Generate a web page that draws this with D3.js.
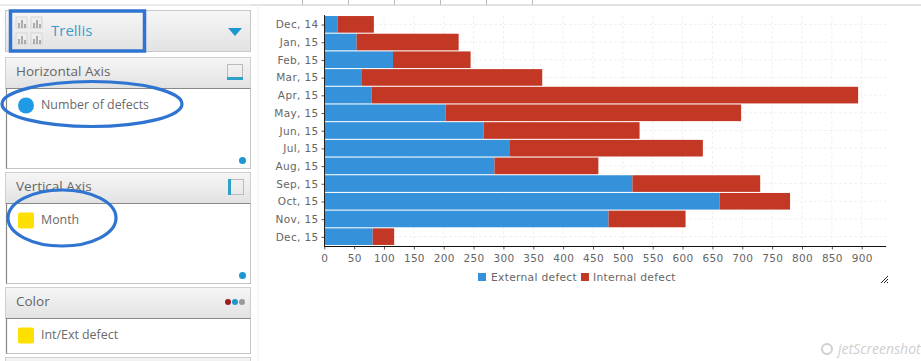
<!DOCTYPE html>
<html><head><meta charset="utf-8">
<script src="https://cdn.jsdelivr.net/npm/d3@7"></script>
<style>html,body{margin:0;padding:0;background:#fff;overflow:hidden}svg{display:block}</style>
</head><body><svg id="c" width="921" height="361"></svg>
<script>
const months = ["Dec, 14","Jan, 15","Feb, 15","Mar, 15","Apr, 15","May, 15","Jun, 15","Jul, 15","Aug, 15","Sep, 15","Oct, 15","Nov, 15","Dec, 15"];
const externalDefect = [22,54,115,63,79,203,267,311,285,516,662,476,81];
const internalDefect = [61,171,130,302,815,495,261,323,174,214,118,129,36];
const tickValues = d3.range(0,901,50);
const seriesNames = ["External defect","Internal defect"];
const seriesColors = ["#3591d9","#c23825"];
const panels = [
  {title:"Horizontal Axis",item:"Number of defects",top:57,head:31,body:80,mark:"circle",grip:true},
  {title:"Vertical Axis",item:"Month",top:172,head:31,body:80,mark:"square",grip:true},
  {title:"Color",item:"Int/Ext defect",top:287,head:31,body:35,mark:"square",grip:false}
];
const svg = d3.select("#c");
const defs = svg.append("defs");
const g = defs.append("linearGradient").attr("id","hd").attr("x1",0).attr("y1",0).attr("x2",0).attr("y2",1);
g.append("stop").attr("offset",0).attr("stop-color","#f6f6f6");
g.append("stop").attr("offset",1).attr("stop-color","#e2e2e2");
const uiFont = "'Open Sans','Noto Sans',sans-serif";

// top strip
svg.append("line").attr("x1",250).attr("x2",921).attr("y1",5).attr("y2",5).attr("stroke","#c8c8c8").attr("stroke-width",1.2);
svg.selectAll(".tp").data([302.5,348.5,394.5,440.5,486.5,532.5]).join("line").attr("x1",d=>d).attr("x2",d=>d).attr("y1",0).attr("y2",5).attr("stroke","#bbb");
svg.append("line").attr("x1",0).attr("x2",250).attr("y1",5).attr("y2",5).attr("stroke","#d8d8d8");
svg.append("line").attr("x1",258).attr("x2",258).attr("y1",5).attr("y2",361).attr("stroke","#eeeeee");

// Trellis header
svg.append("rect").attr("x",5.5).attr("y",10.5).attr("width",245).attr("height",41).attr("fill","url(#hd)").attr("stroke","#c8c8c8");
[[16,17],[31,17],[16,33],[31,33]].forEach(([x,y],i)=>{
  svg.append("rect").attr("x",x).attr("y",y).attr("width",11).attr("height",11).attr("fill","#eee").attr("stroke","#d5d5d5");
  [[2,5],[5,8],[8,4]].forEach(([dx,h])=>svg.append("rect").attr("x",x+dx).attr("y",y+11-h).attr("width",2).attr("height",h).attr("fill","#aaa"));
});
svg.append("text").attr("x",51).attr("y",36).attr("font-family",uiFont).attr("font-size",15).attr("fill","#3a9fcb").text("Trellis");
svg.append("path").attr("d","M228 28H242L235 36Z").attr("fill","#1e96cf");
svg.append("rect").attr("x",10.5).attr("y",11).attr("width",134).attr("height",40).attr("fill","none").attr("stroke","#2f74d0").attr("stroke-width",3.5);

// panels
panels.forEach(p=>{
  svg.append("rect").attr("x",5.5).attr("y",p.top+.5).attr("width",245).attr("height",p.head).attr("fill","url(#hd)").attr("stroke","#cfcfcf");
  svg.append("text").attr("x",16).attr("y",p.top+19).attr("font-family",uiFont).attr("font-size",13.5).attr("fill","#666").text(p.title);
  const by=p.top+p.head+.5;
  svg.append("rect").attr("x",6.5).attr("y",by).attr("width",244).attr("height",p.body).attr("fill","#fff").attr("stroke","#c4c4c4");
  svg.append("path").attr("d",`M6.5 ${by+p.body}V${by}H250.5`).attr("fill","none").attr("stroke","#888").attr("stroke-width",1.2);
  const cy=by+17;
  if(p.mark==="circle") svg.append("circle").attr("cx",26).attr("cy",cy).attr("r",8).attr("fill","#1f9ae6");
  else svg.append("rect").attr("x",18).attr("y",cy-8).attr("width",16).attr("height",16).attr("rx",2).attr("fill","#fde000");
  svg.append("text").attr("x",41).attr("y",cy+3).attr("font-family",uiFont).attr("font-size",12.4).attr("fill","#6a6a6a").text(p.item);
  if(p.grip) svg.append("circle").attr("cx",242.5).attr("cy",by+p.body-8).attr("r",3.5).attr("fill","#1e96cf");
});
// panel icons
svg.append("rect").attr("x",227.5).attr("y",64.5).attr("width",15).attr("height",14).attr("fill","none").attr("stroke","#bbb");
svg.append("rect").attr("x",227).attr("y",77).attr("width",16).attr("height",3).attr("fill","#2fa0c8");
svg.append("rect").attr("x",228.5).attr("y",179.5).attr("width",15).attr("height",15).attr("fill","none").attr("stroke","#bbb");
svg.append("rect").attr("x",228).attr("y",179).attr("width",3).attr("height",16).attr("fill","#2fa0c8");
[[228,"#a01c1c"],[235,"#1e96cf"],[242,"#999"]].forEach(([x,c])=>svg.append("circle").attr("cx",x).attr("cy",302).attr("r",3).attr("fill",c));
svg.append("rect").attr("x",5.5).attr("y",357.5).attr("width",245).attr("height",10).attr("fill","url(#hd)").attr("stroke","#cfcfcf");

// annotation ellipses
svg.append("ellipse").attr("cx",92).attr("cy",104).attr("rx",90).attr("ry",22.5).attr("fill","none").attr("stroke","#2f74d0").attr("stroke-width",3.2);
svg.append("ellipse").attr("cx",62).attr("cy",218).attr("rx",54).attr("ry",28).attr("fill","none").attr("stroke","#2f74d0").attr("stroke-width",3.2);

// chart
const x = d3.scaleLinear().domain([0,900]).range([324.3,861.7]);
const y = d3.scaleBand().domain(months).range([15.5,245.5]).paddingInner(0.06).paddingOuter(0.03);
const grid = svg.append("g").attr("stroke","#f0f0f0").attr("stroke-dasharray","3,2");
grid.selectAll(".v").data(tickValues.slice(1)).join("line").attr("x1",d=>x(d)).attr("x2",d=>x(d)).attr("y1",16).attr("y2",246);
grid.selectAll(".h").data(months).join("line").attr("x1",324).attr("x2",886).attr("y1",d=>y(d)+y.bandwidth()/2).attr("y2",d=>y(d)+y.bandwidth()/2);

const stacked = months.map((m,i)=>({m,a:externalDefect[i],b:internalDefect[i]}));
svg.selectAll(".ext").data(stacked).join("rect").attr("x",x(0)).attr("y",d=>y(d.m)).attr("width",d=>x(d.a)-x(0)).attr("height",y.bandwidth()).attr("fill",seriesColors[0]);
svg.selectAll(".int").data(stacked).join("rect").attr("x",d=>x(d.a)).attr("y",d=>y(d.m)).attr("width",d=>x(d.a+d.b)-x(d.a)).attr("height",y.bandwidth()).attr("fill",seriesColors[1]);

const chartFont = "'DejaVu Sans',sans-serif";
const ax = svg.append("g").attr("transform","translate(0,246.5)").call(d3.axisBottom(x).tickValues(tickValues).tickSize(3).tickSizeOuter(0));
ax.select(".domain").remove();
ax.append("line").attr("x1",324).attr("x2",886).attr("stroke","#111").attr("stroke-width",1.2);
ax.selectAll(".tick line").attr("stroke","#555");
ax.selectAll("text").attr("font-family",chartFont).attr("font-size",10.5).attr("fill","#666").attr("letter-spacing",".3px").attr("dy",".95em");
const ay = svg.append("g").attr("transform","translate(324.5,0.7)").call(d3.axisLeft(y).tickSize(3).tickSizeOuter(0));
ay.select(".domain").remove();
ay.append("line").attr("y1",14.3).attr("y2",245.3).attr("stroke","#222");
ay.selectAll(".tick line").attr("stroke","#555");
ay.selectAll("text").attr("font-family",chartFont).attr("font-size",10.5).attr("fill","#666").attr("letter-spacing",".35px").attr("x",-6);

// legend
const lg = svg.append("g");
[[478,491],[581,593]].forEach(([sx,tx],i)=>{
  lg.append("rect").attr("x",sx).attr("y",273).attr("width",8).attr("height",8).attr("fill",seriesColors[i]);
  lg.append("text").attr("x",tx).attr("y",281).attr("font-family",chartFont).attr("font-size",10.7).attr("letter-spacing",".3px").attr("fill","#666").text(seriesNames[i]);
});
// resize grip
[0,3,6].forEach(o=>svg.append("line").attr("x1",881+o).attr("y1",283).attr("x2",888).attr("y2",276+o).attr("stroke","#222"));
// watermark
svg.append("text").attr("x",838).attr("y",354).attr("font-family",uiFont).attr("font-size",14).attr("font-style","italic").attr("fill","#cfcfcf").text("jetScreenshot");
svg.append("circle").attr("cx",827).attr("cy",349).attr("r",5).attr("fill","none").attr("stroke","#cfcfcf").attr("stroke-width",2);
</script></body></html>
